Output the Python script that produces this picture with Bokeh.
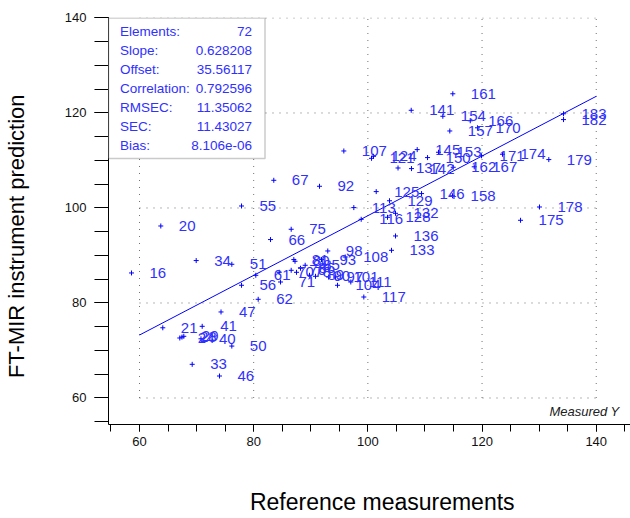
from bokeh.plotting import figure
from bokeh.models import Range1d, FixedTicker, BoxAnnotation, Label, ColumnDataSource
from bokeh.core.properties import value
from bokeh.embed import file_html
from bokeh.resources import INLINE

# ---- data ----
sample_ids = [16, 20, 21, 24, 28, 29, 33, 34, 40, 41,
              46, 47, 50, 51, 55, 56, 61, 62, 66, 67,
              70, 71, 75, 76, 78, 80, 81, 85, 86, 89,
              90, 92, 93, 97, 98, 101, 104, 107, 108, 111,
              113, 116, 117, 121, 124, 125, 128, 129, 132, 133,
              136, 137, 141, 142, 145, 146, 150, 153, 154, 157,
              158, 161, 162, 166, 167, 170, 171, 174, 175, 178,
              179, 182, 183]
measured = [58.60, 63.73, 64.08, 67.06, 67.44, 67.76, 69.23, 69.93, 70.77, 70.98,
            74.01, 74.28, 76.17, 76.17, 77.87, 77.87, 80.37, 80.79, 82.95, 83.52,
            84.47, 84.70, 86.57, 86.57, 87.50, 87.24, 87.03, 89.02, 88.20, 89.78,
            90.83, 91.53, 91.88, 93.11, 92.98, 94.33, 94.68, 95.79, 96.03, 97.01,
            97.54, 98.83, 99.29, 100.64, 100.99, 101.46, 103.44, 103.79, 104.84, 104.14,
            104.84, 105.28, 107.59, 107.64, 108.64, 109.40, 110.45, 112.37, 113.13, 114.35,
            114.83, 114.88, 114.95, 117.93, 118.63, 119.20, 119.91, 123.58, 126.74, 130.06,
            131.69, 134.27, 134.27]
predicted = [86.32, 96.21, 74.78, 72.63, 72.82, 72.99, 67.09, 88.93, 72.46, 75.09,
             64.63, 78.11, 70.93, 88.15, 100.42, 83.73, 85.83, 80.78, 93.35, 105.83,
             86.46, 84.42, 95.52, 86.88, 86.46, 88.78, 89.14, 87.94, 87.31, 85.83,
             85.62, 104.57, 89.14, 85.47, 90.95, 85.47, 83.73, 112.00, 89.68, 84.42,
             100.08, 97.62, 81.26, 110.46, 110.88, 103.45, 98.04, 101.52, 98.88, 91.09,
             94.11, 108.42, 120.57, 108.29, 112.29, 103.03, 110.61, 111.73, 119.31, 116.21,
             102.57, 124.04, 108.57, 118.36, 108.67, 116.88, 110.99, 111.31, 97.41, 100.21,
             110.19, 118.61, 119.83]

stat_names = ["Elements:", "Slope:", "Offset:", "Correlation:", "RMSEC:", "SEC:", "Bias:"]
stat_values = ["72", "0.628208", "35.56117", "0.792596", "11.35062", "11.43027", "8.106e-06"]
slope = 0.628208
offset = 35.56117
fit_x = [60, 140]

grid_ticks = [60, 80, 100, 120, 140]
minor_ticks = list(range(55, 146, 5))

x_title = "Reference measurements"
y_title = "FT-MIR instrument prediction"

# ---- figure ----
X0, X1 = 54.57, 146.0
Y0, Y1 = 54.42, 140.1
W, H = 630, 518
FL, FR, FT, FB = 108, 630, 17, 424

def px2x(px):
    return X0 + (px - FL) * (X1 - X0) / (FR - FL)

def py2y(py):
    return Y1 - (py - FT) * (Y1 - Y0) / (FB - FT)

p = figure(width=W, height=H, output_backend="svg", toolbar_location=None,
           x_range=Range1d(X0, X1), y_range=Range1d(Y0, Y1),
           min_border_left=FL, min_border_right=0, min_border_top=FT,
           min_border_bottom=H - FB)
p.outline_line_color = None
p.background_fill_color = "white"
p.border_fill_color = "white"
p.xgrid.visible = False
p.ygrid.visible = False

BLUE = "#0000ff"
TXT = "#3030ff"
SANS = "Liberation Sans"
NB = "\u00a0"

# dotted grid limited to 60..140
n = len(grid_ticks)
gx0 = list(grid_ticks) + [grid_ticks[0]] * n
gx1 = list(grid_ticks) + [grid_ticks[-1]] * n
gy0 = [grid_ticks[0]] * n + list(grid_ticks)
gy1 = [grid_ticks[-1]] * n + list(grid_ticks)
p.segment(gx0, gy0, gx1, gy1, line_color="#707070", line_width=1, line_dash="1 6")

# axes
for ax, out in ((p.xaxis[0], 7), (p.yaxis[0], 14)):
    ax.ticker = FixedTicker(ticks=grid_ticks, minor_ticks=minor_ticks)
    ax.major_tick_out = out
    ax.major_tick_in = 0
    ax.minor_tick_out = out
    ax.minor_tick_in = 0
    ax.axis_line_color = "black"
    ax.major_tick_line_color = "black"
    ax.minor_tick_line_color = "black"
    ax.major_label_text_font = SANS
    ax.major_label_text_font_size = "13px"
    ax.major_label_text_color = "#111111"
    ax.axis_label_text_font = SANS
    ax.axis_label_text_font_style = "normal"
    ax.axis_label_text_color = "black"

p.xaxis.major_label_standoff = 5
p.yaxis.major_label_standoff = 8
# titles: non-breaking spaces nudge the centred title toward the reference position
p.xaxis.axis_label = NB * 4 + x_title
p.xaxis.axis_label_text_font_size = "23px"
p.xaxis.axis_label_standoff = 40
p.yaxis.axis_label = y_title + NB * 5
p.yaxis.axis_label_text_font_size = "22px"
p.yaxis.axis_label_standoff = 33

# regression line
fit_y = [slope * v + offset for v in fit_x]
p.line(fit_x, fit_y, line_color=BLUE, line_width=1)

# points and labels
src = ColumnDataSource(dict(x=measured, y=predicted, lab=[str(s) for s in sample_ids]))
p.scatter("x", "y", source=src, marker="cross", size=5, line_color=BLUE, line_width=1)
p.text("x", "y", text="lab", source=src, x_offset=18, text_align="left",
       text_baseline="middle", text_color=TXT, text_font=value(SANS),
       text_font_size="15px")

# statistics box
box = BoxAnnotation(left=X0, right=px2x(264.5), top=140.0, bottom=py2y(158),
                    fill_color="white", fill_alpha=1.0, line_color="#505050",
                    line_width=1.5, level="overlay")
p.add_layout(box)
for i, (nm, v) in enumerate(zip(stat_names, stat_values)):
    yy = py2y(30.7 + 19.08 * i)
    p.add_layout(Label(x=px2x(119.5), y=yy, text=nm, text_align="left",
                       text_baseline="middle", text_color=TXT, text_font=SANS,
                       text_font_size="13.5px", level="overlay"))
    p.add_layout(Label(x=px2x(251.5), y=yy, text=v, text_align="right",
                       text_baseline="middle", text_color=TXT, text_font=SANS,
                       text_font_size="13.5px", level="overlay"))

p.add_layout(Label(x=px2x(619), y=py2y(411), text="Measured Y", text_align="right",
                   text_baseline="middle", text_color="#202020", text_font=SANS,
                   text_font_size="13px", text_font_style="italic"))

open("out.html", "w").write(file_html(p, INLINE))
